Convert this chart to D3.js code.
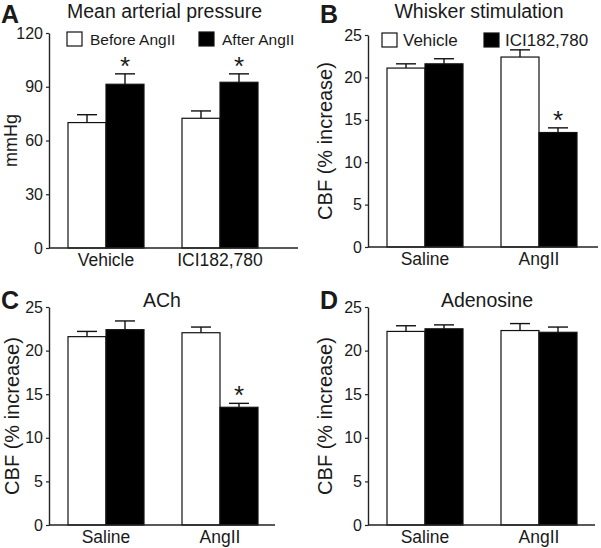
<!DOCTYPE html>
<html>
<head>
<meta charset="utf-8">
<script src="https://cdn.jsdelivr.net/npm/d3@7"></script>
<style>
  body { margin: 0; background: #fff; }
  text { font-family: "Liberation Sans", Arial, sans-serif; fill: #1a1a1a; }
</style>
</head>
<body>
<div id="chart"></div>
<script>
// ---- data ----
var mapCategories = ["Vehicle", "ICI182,780"];
var mapSeries = ["Before AngII", "After AngII"];
var mapMean = [[70, 91.4], [72.4, 92.5]];
var mapSem = [[4.4, 5.8], [4.1, 4.7]];
var mapSig = [[false, true], [false, true]];
var mapTicks = [0, 30, 60, 90, 120];

var cbfCategories = ["Saline", "AngII"];
var cbfSeries = ["Vehicle", "ICI182,780"];
var cbfTicks = [0, 5, 10, 15, 20, 25];

var whiskerMean = [[21.1, 21.6], [22.4, 13.5]];
var whiskerSem = [[0.5, 0.6], [0.85, 0.55]];
var whiskerSig = [[false, false], [false, true]];

var achMean = [[21.6, 22.4], [22.05, 13.5]];
var achSem = [[0.6, 1.0], [0.65, 0.45]];
var achSig = [[false, false], [false, true]];

var adenoMean = [[22.2, 22.5], [22.3, 22.1]];
var adenoSem = [[0.65, 0.45], [0.8, 0.6]];
var adenoSig = [[false, false], [false, false]];

var seriesFill = ["#fff", "#000"];

// ---- layout of the four panels ----
var panels = [
    { letter: "A", letterY: 23, title: "Mean arterial pressure", titleX: 67, titleAnchor: "start", titleY: 18,
      ox: 49, y0: 248, yTop: 33, xEnd: 298, yMax: 120, ticks: mapTicks,
      cats: mapCategories, series: mapSeries, mean: mapMean, sem: mapSem, sig: mapSig,
      ylabel: "mmHg", ylabelX: 17, ylabelSize: 18,
      legend: { x: [67, 199], textX: [90, 222], y: 32, size: 15.5 } },
    { letter: "B", letterY: 23, title: "Whisker stimulation", titleX: 479, titleAnchor: "middle", titleY: 18,
      ox: 368, y0: 247, yTop: 35, xEnd: 598, yMax: 25, ticks: cbfTicks,
      cats: cbfCategories, series: cbfSeries, mean: whiskerMean, sem: whiskerSem, sig: whiskerSig,
      ylabel: "CBF (% increase)", ylabelX: 332, ylabelSize: 20,
      legend: { x: [382, 484], textX: [403, 505], y: 33, size: 17 } },
    { letter: "C", letterY: 309, title: "ACh", titleX: 162, titleAnchor: "middle", titleY: 307,
      ox: 49, y0: 525, yTop: 307, xEnd: 275, yMax: 25, ticks: cbfTicks,
      cats: cbfCategories, series: cbfSeries, mean: achMean, sem: achSem, sig: achSig,
      ylabel: "CBF (% increase)", ylabelX: 19, ylabelSize: 20 },
    { letter: "D", letterY: 309, title: "Adenosine", titleX: 487, titleAnchor: "middle", titleY: 307,
      ox: 368, y0: 525, yTop: 307, xEnd: 595, yMax: 25, ticks: cbfTicks,
      cats: cbfCategories, series: cbfSeries, mean: adenoMean, sem: adenoSem, sig: adenoSig,
      ylabel: "CBF (% increase)", ylabelX: 332, ylabelSize: 20 }
];

var svg = d3.select("#chart")
    .append("svg")
    .attr("width", 601)
    .attr("height", 548);

svg.append("rect").attr("width", 601).attr("height", 548).attr("fill", "#fff");

panels.forEach(function (p) {
    var g = svg.append("g");

    var y = d3.scaleLinear()
        .domain([0, p.yMax])
        .range([p.y0, p.yTop]);

    // groups start 19px right of the axis, 76px wide, 38px apart
    var x0 = d3.scaleBand()
        .domain(p.cats)
        .range([p.ox + 19, p.ox + 209])
        .paddingInner(1 / 3);

    var x1 = d3.scaleBand()
        .domain(p.series)
        .range([0, x0.bandwidth()]);

    // flatten values into one row per bar
    var rows = [];
    p.cats.forEach(function (c, i) {
        p.series.forEach(function (s, j) {
            rows.push({ cat: c, ser: s, j: j, mean: p.mean[i][j], sem: p.sem[i][j], sig: p.sig[i][j] });
        });
    });

    // error bars (upper only) drawn first so the bar edge covers them
    var err = g.selectAll(".err")
        .data(rows)
        .enter()
        .append("g");

    err.append("line")
        .attr("x1", function (d) { return x0(d.cat) + x1(d.ser) + x1.bandwidth() / 2; })
        .attr("x2", function (d) { return x0(d.cat) + x1(d.ser) + x1.bandwidth() / 2; })
        .attr("y1", function (d) { return y(d.mean); })
        .attr("y2", function (d) { return y(d.mean + d.sem); })
        .attr("stroke", "#111")
        .attr("stroke-width", 1.4);

    err.append("line")
        .attr("x1", function (d) { return x0(d.cat) + x1(d.ser) + x1.bandwidth() / 2 - 10; })
        .attr("x2", function (d) { return x0(d.cat) + x1(d.ser) + x1.bandwidth() / 2 + 10; })
        .attr("y1", function (d) { return y(d.mean + d.sem); })
        .attr("y2", function (d) { return y(d.mean + d.sem); })
        .attr("stroke", "#111")
        .attr("stroke-width", 1.4);

    g.selectAll(".bar")
        .data(rows)
        .enter()
        .append("rect")
        .attr("x", function (d) { return x0(d.cat) + x1(d.ser); })
        .attr("y", function (d) { return y(d.mean); })
        .attr("width", x1.bandwidth())
        .attr("height", function (d) { return y(0) - y(d.mean); })
        .attr("fill", function (d) { return seriesFill[d.j]; })
        .attr("stroke", "#111")
        .attr("stroke-width", 1.2);

    // significance stars
    g.selectAll(".star")
        .data(rows.filter(function (d) { return d.sig; }))
        .enter()
        .append("text")
        .attr("x", function (d) { return x0(d.cat) + x1(d.ser) + x1.bandwidth() / 2; })
        .attr("y", function (d) { return y(d.mean + d.sem) + 1; })
        .attr("text-anchor", "middle")
        .style("font-size", "26px")
        .text("*");

    // y axis
    var yAxis = g.append("g")
        .attr("transform", "translate(" + p.ox + ",0)")
        .call(d3.axisLeft(y).tickValues(p.ticks).tickSize(3).tickSizeOuter(0).tickPadding(3));
    yAxis.select(".domain").attr("stroke", "#222").attr("stroke-width", 1.4);
    yAxis.selectAll(".tick line").attr("stroke", "#222").attr("stroke-width", 1.2);
    yAxis.selectAll(".tick text")
        .style("font-family", "'Liberation Sans', Arial, sans-serif")
        .style("font-size", "16px")
        .attr("fill", "#1a1a1a");

    // x baseline and category labels
    g.append("line")
        .attr("x1", p.ox).attr("x2", p.xEnd)
        .attr("y1", y(0)).attr("y2", y(0))
        .attr("stroke", "#222")
        .attr("stroke-width", 1.4);

    var xAxis = g.append("g")
        .attr("transform", "translate(0," + p.y0 + ")")
        .call(d3.axisBottom(x0).tickSize(0).tickPadding(6));
    xAxis.select(".domain").remove();
    xAxis.selectAll(".tick text")
        .style("font-family", "'Liberation Sans', Arial, sans-serif")
        .style("font-size", "17.5px")
        .attr("fill", "#1a1a1a");

    // y label
    g.append("text")
        .attr("transform", "translate(" + p.ylabelX + "," + ((p.y0 + p.yTop) / 2) + ") rotate(-90)")
        .attr("text-anchor", "middle")
        .style("font-size", p.ylabelSize + "px")
        .text(p.ylabel);

    // title and panel letter
    g.append("text")
        .attr("x", p.titleX)
        .attr("y", p.titleY)
        .attr("text-anchor", p.titleAnchor)
        .style("font-size", "19.5px")
        .text(p.title);

    g.append("text")
        .attr("x", p.ox - 48)
        .attr("y", p.letterY)
        .style("font-size", "25px")
        .style("font-weight", "bold")
        .attr("fill", "#000")
        .text(p.letter);

    // legend
    if (p.legend) {
        var lg = g.selectAll(".lg")
            .data(p.series)
            .enter()
            .append("g");
        lg.append("rect")
            .attr("x", function (d, i) { return p.legend.x[i]; })
            .attr("y", p.legend.y)
            .attr("width", 15)
            .attr("height", 14)
            .attr("fill", function (d, i) { return seriesFill[i]; })
            .attr("stroke", "#111")
            .attr("stroke-width", 1.2);
        lg.append("text")
            .attr("x", function (d, i) { return p.legend.textX[i]; })
            .attr("y", p.legend.y + 13)
            .style("font-size", p.legend.size + "px")
            .text(function (d) { return d; });
    }
});
</script>
</body>
</html>
